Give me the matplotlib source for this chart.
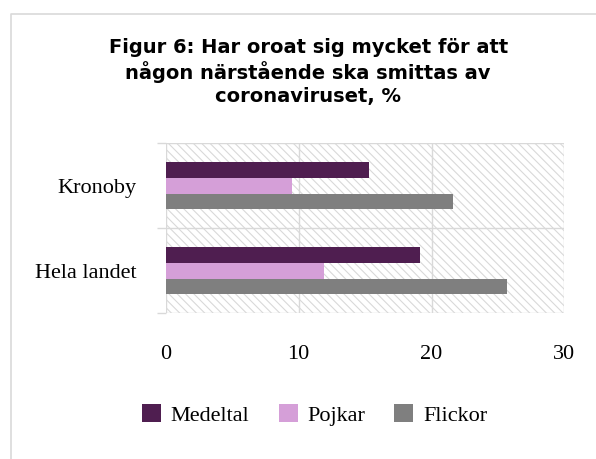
import numpy as np
import matplotlib
matplotlib.use("Agg")
import matplotlib.pyplot as plt
from matplotlib.patches import Rectangle, Patch
from matplotlib.lines import Line2D

plt.rcParams['hatch.color'] = '#d9d9d9'
plt.rcParams['hatch.linewidth'] = 0.8

categories = ['Hela landet', 'Kronoby']
series = ['Medeltal', 'Pojkar', 'Flickor']
medeltal = [19.1, 15.3]
pojkar = [11.9, 9.5]
flickor = [25.7, 21.6]
colors = ['#4f1e50', '#d59fd8', '#7f7f7f']
xticks = [0, 10, 20, 30]

fig = plt.figure(figsize=(5.96, 4.59), dpi=100)
ax = fig.add_axes([0.278, 0.3174, 0.669, 0.3704])

# figure border, only top and left show
bx, by = 10.5 / 596, 1 - 13.5 / 459
fig.lines.append(Line2D([bx, bx, 1.0], [0.0, by, by], transform=fig.transFigure,
                        color='#d9d9d9', lw=1.2, solid_capstyle='butt'))

# hatched plot background
ax.add_patch(Rectangle((0, 0), 1, 1, transform=ax.transAxes, facecolor='white',
                       hatch='\\\\\\\\', edgecolor='#d9d9d9', lw=0, zorder=0))

y = np.arange(len(categories))
h = 0.183
for vals, off, c, name in zip([medeltal, pojkar, flickor], [h, 0, -h], colors, series):
    ax.barh(y + off, vals, height=h, color=c, label=name, zorder=3)

ax.set_xlim(0, 30)
ax.set_ylim(-0.5, 1.5)
ax.set_xticks(xticks)
ax.set_xticklabels([str(t) for t in xticks], fontfamily='Liberation Serif', fontsize=16)
ax.set_yticks(y)
ax.set_yticklabels(categories, fontfamily='Liberation Serif', fontsize=16)
ax.set_yticks([-0.5, 0.5, 1.5], minor=True)
ax.tick_params(axis='x', length=0, pad=23)
ax.tick_params(axis='y', which='major', length=0, pad=21)
ax.tick_params(axis='y', which='minor', length=6.5, width=1, color='#d9d9d9')
ax.grid(axis='x', color='#d9d9d9', lw=1, zorder=1)
ax.grid(axis='y', which='minor', color='#d9d9d9', lw=1, zorder=1)
for s in ax.spines.values():
    s.set_visible(False)
ax.set_axisbelow(True)

fig.text(0.517, 0.843, 'Figur 6: Har oroat sig mycket för att\nnågon närstående ska smittas av\ncoronaviruset, %',
         ha='center', va='center', fontsize=14, fontweight='bold', fontfamily='DejaVu Sans',
         linespacing=1.25)

handles = [Patch(facecolor=c, label=n) for c, n in zip(colors, series)]
fig.legend(handles=handles, loc='center', bbox_to_anchor=(0.528, 0.096), ncol=3,
           frameon=False, prop={'family': 'Liberation Serif', 'size': 16},
           handlelength=0.86, handleheight=0.86, handletextpad=0.45, columnspacing=1.3)

fig.savefig('out.png', dpi=100)
